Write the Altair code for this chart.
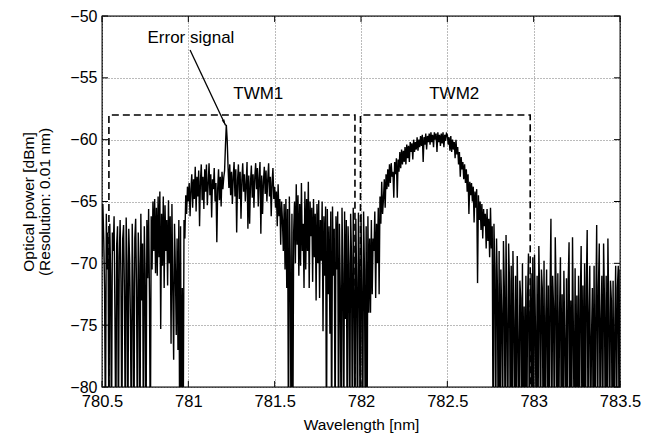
import altair as alt
import pandas as pd

# ---------------- data ----------------
start_nm = 780.50
step_nm = 0.005

# 780.500 - 780.995
power_a = [
    -69.5, -65.2, -68.0, -72.0, -85.0, -66.0, -70.5, -67.5, -85.0, -66.8,
    -71.0, -85.0, -67.5, -69.0, -66.2, -74.5, -85.0, -68.5, -67.0, -85.0,
    -69.5, -66.5, -71.5, -85.0, -68.0, -66.9, -72.5, -85.0, -66.3, -70.0,
    -85.0, -67.2, -69.8, -75.0, -85.0, -66.8, -71.5, -85.0, -68.0, -66.4,
    -72.0, -85.0, -67.5, -70.2, -85.0, -66.0, -73.0, -68.4, -85.0, -67.0,
    -70.8, -85.0, -66.5, -71.2, -65.6, -72.8, -85.0, -66.2, -70.5, -65.0,
    -69.0, -64.8, -70.8, -65.5, -71.0, -64.6, -69.5, -64.2, -75.3, -66.0,
    -70.2, -64.6, -72.0, -65.3, -69.0, -66.5, -71.8, -64.9, -70.0, -66.2,
    -76.5, -65.2, -72.0, -77.8, -66.8, -70.5, -75.8, -68.0, -77.0, -66.5,
    -85.0, -67.0, -85.0, -72.0, -85.0, -66.5, -68.0, -64.5, -66.0, -63.8,
]
# 781.000 - 781.495  (TWM1, error signal at 781.22)
power_b = [
    -65.0, -63.5, -66.2, -64.0, -62.8, -65.5, -63.2, -64.8, -62.2, -65.8,
    -63.0, -64.6, -62.5, -67.0, -63.4, -62.0, -64.9, -63.0, -65.6, -62.4,
    -64.2, -62.0, -65.3, -63.6, -61.9, -64.5, -62.8, -66.3, -63.2, -64.0,
    -62.3, -65.0, -63.5, -68.3, -64.0, -62.4, -64.9, -63.0, -65.4, -62.6,
    -64.0, -63.1, -62.5, -60.5, -58.8, -60.0, -62.2, -63.9, -62.0, -64.5,
    -62.6, -65.2, -63.0, -61.8, -64.6, -62.4, -67.5, -63.3, -62.0, -64.8,
    -62.6, -66.4, -63.3, -61.9, -64.2, -62.8, -65.0, -63.6, -61.8, -67.2,
    -62.9, -66.8, -63.5, -62.1, -64.7, -62.8, -65.5, -63.0, -61.9, -64.0,
    -62.3, -65.4, -63.1, -61.8, -67.6, -62.9, -66.0, -63.4, -62.2, -64.4,
    -62.5, -65.0, -63.2, -61.9, -64.6, -63.0, -66.2, -63.5, -62.3, -64.8,
]
# 781.500 - 781.995
power_c = [
    -63.8, -65.5, -64.2, -67.0, -63.6, -66.2, -64.8, -68.5, -65.0, -66.5,
    -69.0, -65.2, -70.5, -64.8, -72.0, -65.6, -85.0, -64.6, -69.5, -85.0,
    -66.0, -85.0, -67.5, -65.0, -70.0, -63.6, -68.5, -64.5, -71.0, -65.2,
    -70.2, -63.5, -69.0, -66.8, -72.0, -64.2, -70.5, -64.8, -69.0, -63.4,
    -72.0, -65.0, -67.8, -65.5, -71.5, -64.8, -69.5, -66.0, -73.0, -65.2,
    -70.0, -64.9, -72.8, -66.5, -69.8, -65.0, -75.5, -66.2, -71.0, -65.4,
    -85.0, -65.6, -72.5, -67.0, -75.7, -65.8, -85.0, -65.4, -71.0, -67.2,
    -85.0, -66.2, -70.5, -65.8, -85.0, -66.8, -72.0, -85.0, -65.5, -70.8,
    -85.0, -65.8, -74.5, -66.5, -85.0, -67.0, -70.0, -85.0, -66.0, -69.5,
    -85.0, -65.5, -72.0, -85.0, -66.4, -71.5, -85.0, -65.9, -70.0, -85.0,
]
# 782.000 - 782.495  (TWM2 rising side)
power_d = [
    -66.0, -72.0, -85.0, -65.8, -70.5, -85.0, -67.0, -85.0, -66.2, -74.0,
    -68.0, -74.0, -66.5, -72.5, -68.0, -69.0, -65.8, -72.8, -66.8, -70.0,
    -65.5, -72.5, -64.6, -66.8, -63.4, -66.0, -64.8, -63.2, -65.5, -62.8,
    -64.0, -62.4, -63.8, -62.0, -63.5, -61.9, -63.0, -62.6, -64.7, -61.8,
    -62.8, -61.5, -64.7, -61.6, -62.6, -61.0, -62.3, -60.8, -62.0, -60.9,
    -61.8, -60.6, -62.0, -60.4, -61.5, -60.5, -61.8, -60.2, -61.0, -60.3,
    -61.6, -60.0, -61.0, -60.2, -60.8, -59.8, -60.9, -60.0, -60.6, -59.7,
    -60.5, -59.6, -61.8, -59.8, -60.4, -59.5, -60.8, -59.7, -60.2, -59.5,
    -60.4, -59.4, -60.2, -59.6, -60.6, -59.4, -60.0, -59.5, -61.0, -59.4,
    -60.2, -59.6, -60.5, -59.5, -60.3, -59.4, -60.6, -59.6, -60.1, -59.5,
]
# 782.500 - 782.995  (TWM2 falling side, then floor)
power_e = [
    -59.6, -60.4, -59.8, -60.9, -59.7, -61.0, -60.0, -60.8, -60.2, -61.5,
    -60.0, -61.2, -60.6, -62.0, -61.0, -63.0, -61.4, -62.4, -61.8, -63.2,
    -62.0, -63.5, -62.4, -64.2, -62.8, -66.0, -63.4, -64.5, -63.5, -65.0,
    -63.8, -66.7, -64.2, -65.5, -64.0, -71.6, -64.5, -66.5, -65.0, -67.3,
    -65.2, -68.0, -65.6, -67.0, -66.0, -68.8, -65.6, -68.2, -66.4, -69.5,
    -65.5, -68.8, -67.0, -85.0, -66.8, -70.5, -85.0, -68.0, -72.0, -85.0,
    -69.0, -85.0, -70.5, -74.0, -85.0, -68.2, -72.0, -85.0, -67.7, -75.0,
    -85.0, -68.4, -71.5, -85.0, -70.2, -85.0, -69.0, -74.5, -85.0, -71.0,
    -85.0, -69.4, -76.0, -85.0, -71.4, -72.8, -85.0, -70.0, -85.0, -73.5,
    -85.0, -71.0, -85.0, -72.5, -69.2, -85.0, -74.0, -70.8, -85.0, -69.5,
]
# 783.000 - 783.500
power_f = [
    -85.0, -69.3, -75.0, -85.0, -71.0, -85.0, -68.6, -73.0, -85.0, -70.5,
    -72.0, -85.0, -69.8, -85.0, -74.5, -70.5, -85.0, -71.8, -85.0, -72.2,
    -66.4, -85.0, -71.0, -73.5, -85.0, -67.9, -72.0, -85.0, -70.8, -85.0,
    -74.0, -69.5, -85.0, -72.5, -85.0, -70.6, -76.0, -85.0, -71.2, -85.0,
    -71.5, -68.3, -85.0, -73.0, -85.0, -67.9, -75.5, -85.0, -70.4, -85.0,
    -72.6, -85.0, -71.0, -85.0, -73.0, -68.6, -85.0, -71.8, -85.0, -70.0,
    -85.0, -71.8, -67.3, -85.0, -74.0, -70.2, -85.0, -76.0, -72.0, -85.0,
    -70.2, -85.0, -73.5, -66.9, -85.0, -72.0, -68.4, -85.0, -74.5, -71.0,
    -85.0, -68.4, -73.0, -85.0, -71.0, -85.0, -68.0, -74.0, -85.0, -71.4,
    -73.0, -85.0, -71.4, -85.0, -75.0, -70.2, -85.0, -72.0, -70.2, -85.0,
    -70.5,
]

x_ticks = [780.5, 781.0, 781.5, 782.0, 782.5, 783.0, 783.5]
y_ticks = [-80, -75, -70, -65, -60, -55, -50]

box_name = ["TWM1"] * 4 + ["TWM2"] * 4
box_x = [780.54, 780.54, 781.965, 781.965, 781.997, 781.997, 782.98, 782.98]
box_y = [-80, -58, -58, -80, -80, -58, -58, -80]
box_order = [0, 1, 2, 3, 0, 1, 2, 3]

label_text = ["TWM1", "TWM2", "Error signal"]
label_x = [781.405, 782.54, 781.015]
label_y = [-56.3, -56.3, -51.75]

arrow_x0, arrow_y0 = [781.01], [-52.75]
arrow_x1, arrow_y1 = [781.216], [-58.85]

# ---------------- tables ----------------
power = power_a + power_b + power_c + power_d + power_e + power_f
wavelength = [round(start_nm + i * step_nm, 4) for i in range(len(power))]
df_spec = pd.DataFrame({"wavelength": wavelength, "power": power})
df_box = pd.DataFrame({"name": box_name, "wavelength": box_x, "power": box_y, "k": box_order})
df_lab = pd.DataFrame({"text": label_text, "wavelength": label_x, "power": label_y})
df_arrow = pd.DataFrame({"x0": arrow_x0, "y0": arrow_y0, "x1": arrow_x1, "y1": arrow_y1})
df_xt = pd.DataFrame({"v": x_ticks})
df_yt = pd.DataFrame({"v": y_ticks})

W, H = 518, 371
FONT = "Liberation Sans"
TICK = 6

x_scale = alt.Scale(domain=[780.5, 783.5], nice=False, zero=False)
y_scale = alt.Scale(domain=[-80, -50], nice=False, zero=False)

x_axis = alt.Axis(values=x_ticks, format="~f", title="Wavelength [nm]", grid=True,
                  gridDash=[1, 2], gridColor="#777", gridWidth=1, ticks=False, domain=False,
                  labelFont=FONT, titleFont=FONT, labelFontSize=16.5, titleFontSize=15.5,
                  labelColor="black", titleColor="black", titleFontWeight="normal",
                  labelPadding=6, titlePadding=8, labelFlush=False)
y_axis = alt.Axis(values=y_ticks, format="d", title=["Optical power [dBm]", "(Resolution: 0.01 nm)"],
                  grid=True, gridDash=[1, 2], gridColor="#777", gridWidth=1, ticks=False, domain=False,
                  labelFont=FONT, titleFont=FONT, labelFontSize=16, titleFontSize=15.5,
                  labelColor="black", titleColor="black", titleFontWeight="normal",
                  labelPadding=5, titlePadding=17, titleLineHeight=16, labelFlush=False)

spectrum = alt.Chart(df_spec).mark_line(color="black", strokeWidth=1.4, clip=True).encode(
    x=alt.X("wavelength:Q", scale=x_scale, axis=x_axis),
    y=alt.Y("power:Q", scale=y_scale, axis=y_axis),
)

boxes = alt.Chart(df_box).mark_line(color="black", strokeWidth=1.6, strokeDash=[7, 4]).encode(
    x="wavelength:Q", y="power:Q", detail="name:N", order="k:Q"
)

labels = alt.Chart(df_lab).mark_text(font=FONT, fontSize=17, color="black").encode(
    x="wavelength:Q", y="power:Q", text="text:N"
)

arrow_line = alt.Chart(df_arrow).mark_rule(color="black", strokeWidth=1.3).encode(
    x="x0:Q", y="y0:Q", x2="x1", y2="y1"
)
arrow_head = alt.Chart(df_arrow).mark_point(
    shape="M0,0L-0.22,1L0.22,1Z", filled=True, color="black", size=150, angle=155, opacity=1
).encode(x="x1:Q", y="y1:Q")

tick_left = alt.Chart(df_yt).mark_rule(color="black", strokeWidth=1).encode(
    y=alt.Y("v:Q", scale=y_scale), x=alt.value(0), x2=alt.value(TICK))
tick_right = alt.Chart(df_yt).mark_rule(color="black", strokeWidth=1).encode(
    y=alt.Y("v:Q", scale=y_scale), x=alt.value(W - TICK), x2=alt.value(W))
tick_bottom = alt.Chart(df_xt).mark_rule(color="black", strokeWidth=1).encode(
    x=alt.X("v:Q", scale=x_scale), y=alt.value(H - TICK), y2=alt.value(H))
tick_top = alt.Chart(df_xt).mark_rule(color="black", strokeWidth=1).encode(
    x=alt.X("v:Q", scale=x_scale), y=alt.value(0), y2=alt.value(TICK))

chart = alt.layer(
    spectrum, boxes, labels, arrow_line, arrow_head, tick_left, tick_right, tick_bottom, tick_top
).properties(
    width=W, height=H, background="white",
    autosize=alt.AutoSizeParams(type="none"),
    padding={"left": 94, "top": 8, "right": 24, "bottom": 51},
).configure_view(
    stroke="black", strokeWidth=1.3
)

chart.save("out.html", embed_options={"renderer": "svg", "actions": False})
